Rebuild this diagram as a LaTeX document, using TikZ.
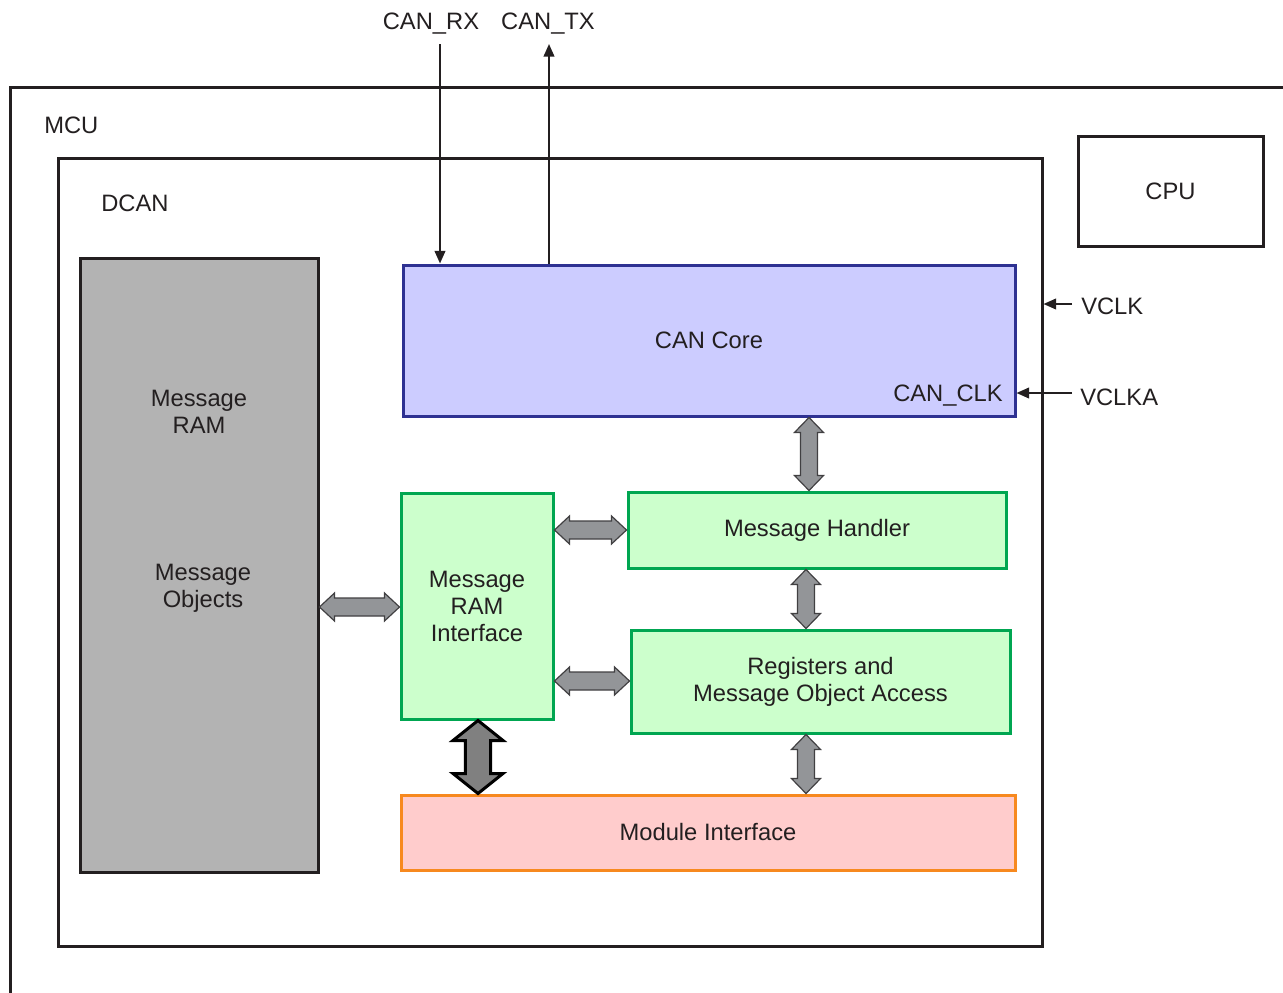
\documentclass[tikz,border=0pt]{standalone}
\usepackage{fontspec}
\setmainfont{Liberation Sans}
\usetikzlibrary{calc,arrows.meta}
\definecolor{txt}{HTML}{231F20}
\definecolor{frm}{HTML}{231F20}
\definecolor{ramfill}{HTML}{B3B3B3}
\definecolor{corefill}{HTML}{CCCCFF}
\definecolor{coreline}{HTML}{2E3192}
\definecolor{grnfill}{HTML}{CCFFCC}
\definecolor{grnline}{HTML}{00A651}
\definecolor{modfill}{HTML}{FFCCCC}
\definecolor{modline}{HTML}{F7891F}
\definecolor{arrfill}{HTML}{939598}
\definecolor{arrline}{HTML}{414042}
\definecolor{bigfill}{HTML}{808080}
\tikzset{
  lbl/.style={text=txt,font=\fontsize{17.8}{20.25}\selectfont,inner sep=0pt,align=center,yshift=-1.5pt},
  frame/.style={draw=frm,line width=2.25pt,inner sep=0pt},
  blk/.style={line width=2.25pt,inner sep=0pt,text=txt,font=\fontsize{17.8}{20.25}\selectfont,align=center},
  ramblk/.style={blk,draw=frm,fill=ramfill},
  coreblk/.style={blk,draw=coreline,fill=corefill},
  grnblk/.style={blk,draw=grnline,fill=grnfill},
  modblk/.style={blk,draw=modline,fill=modfill},
  sig/.style={draw=txt,line width=1.5pt,-{Triangle[length=9.5pt,width=8pt]}},
  fatsmall/.style={fill=arrfill,draw=arrline,line width=0.9pt,line join=miter},
  fatbig/.style={fill=bigfill,draw=black,line width=2.25pt,line join=miter},
}
\newcommand\fatV[6]{%
  \filldraw[#1] let \p1=#2, \p2=#3 in
  (\x1,\y1) -- ({\x1+#5},{\y1-#6}) -- ({\x1+#4},{\y1-#6}) -- ({\x1+#4},{\y2+#6})
  -- ({\x1+#5},{\y2+#6}) -- (\x1,\y2) -- ({\x1-#5},{\y2+#6}) -- ({\x1-#4},{\y2+#6})
  -- ({\x1-#4},{\y1-#6}) -- ({\x1-#5},{\y1-#6}) -- cycle;}
\newcommand\fatH[6]{%
  \filldraw[#1] let \p1=#2, \p2=#3 in
  (\x1,\y1) -- ({\x1+#6},{\y1+#5}) -- ({\x1+#6},{\y1+#4}) -- ({\x2-#6},{\y1+#4})
  -- ({\x2-#6},{\y1+#5}) -- (\x2,\y1) -- ({\x2-#6},{\y1-#5}) -- ({\x2-#6},{\y1-#4})
  -- ({\x1+#6},{\y1-#4}) -- ({\x1+#6},{\y1-#5}) -- cycle;}
\begin{document}
\begin{tikzpicture}[x=0.75pt,y=-0.75pt]
\useasboundingbox (0,0) rectangle (1283,993);
\clip (0,0) rectangle (1283,993);
\fill[white] (0,0) rectangle (1283,993);
% containers
\node[frame,minimum width=0.75*1274pt,minimum height=0.75*940pt] (mcu) at (647,557) {};
\node[lbl,anchor=west] (mcul) at (44,123) {MCU};
\node[frame,minimum width=0.75*984pt,minimum height=0.75*788pt] (dcan) at (550,552) {};
\node[lbl,anchor=west] (dcanl) at (101,201) {DCAN};
\node[blk,draw=frm,minimum width=0.75*185pt,minimum height=0.75*110pt] (cpu) at (1170.5,191) {CPU};
% blocks
\node[ramblk,minimum width=0.75*238pt,minimum height=0.75*614pt] (mram) at (199,565) {};
\node[lbl] (mramt1) at (199,410) {Message\\RAM};
\node[lbl] (mramt2) at (203,586) {Message\\Objects};
\node[coreblk,minimum width=0.75*612pt,minimum height=0.75*151pt] (core) at (709,340.5) {CAN Core};
\node[lbl,anchor=east] (canclk) at (1003,394) {CAN\_CLK};
\node[grnblk,minimum width=0.75*152pt,minimum height=0.75*226pt] (mri) at (477,606) {Message\\RAM\\Interface};
\node[grnblk,minimum width=0.75*378pt,minimum height=0.75*76pt] (mh) at (817,530) {Message Handler};
\node[grnblk,minimum width=0.75*379pt,minimum height=0.75*103pt] (reg) at (820.5,681.5) {Registers and\\Message Object Access};
\node[modblk,minimum width=0.75*614pt,minimum height=0.75*75pt] (mod) at (708,832.5) {Module Interface};
% external signals
\node[lbl] (rxl) at (431,22) {CAN\_RX};
\node[lbl] (txl) at (548,22) {CAN\_TX};
\coordinate (rxin) at (440,44);
\coordinate (txout) at (549,44);
\draw[sig] (rxin) -- (rxin |- core.north);
\draw[sig] (txout |- core.north) -- (txout);
\node[lbl,anchor=west] (vclk) at (1081,304) {VCLK};
\node[lbl,anchor=west] (vclka) at (1080,395) {VCLKA};
\coordinate (vclkin) at (1072,304);
\coordinate (vclkain) at (1072,393);
\draw[sig] (vclkin) -- (vclkin -| dcan.east);
\draw[sig] (vclkain) -- (vclkain -| core.east);
% fat bidirectional arrows
\fatV{fatsmall}{(809,0 |- core.south)}{(809,0 |- mh.north)}{6.4pt}{10.9pt}{11.25pt}
\fatH{fatsmall}{(mri.east |- 0,530)}{(mh.west |- 0,530)}{6.75pt}{10.5pt}{11.25pt}
\fatH{fatsmall}{(mram.east |- 0,607)}{(mri.west |- 0,607)}{6.75pt}{10.5pt}{11.25pt}
\fatH{fatsmall}{(mri.east |- 0,681)}{(reg.west |- 0,681)}{6.75pt}{10.5pt}{11.25pt}
\fatV{fatsmall}{(806,0 |- mh.south)}{(806,0 |- reg.north)}{6.4pt}{10.9pt}{11.25pt}
\fatV{fatsmall}{(806,0 |- reg.south)}{(806,0 |- mod.north)}{6.4pt}{10.9pt}{11.25pt}
\fatV{fatbig}{(478,0 |- mri.south)}{(478,0 |- mod.north)}{9.4pt}{18.75pt}{15pt}
\end{tikzpicture}
\end{document}
